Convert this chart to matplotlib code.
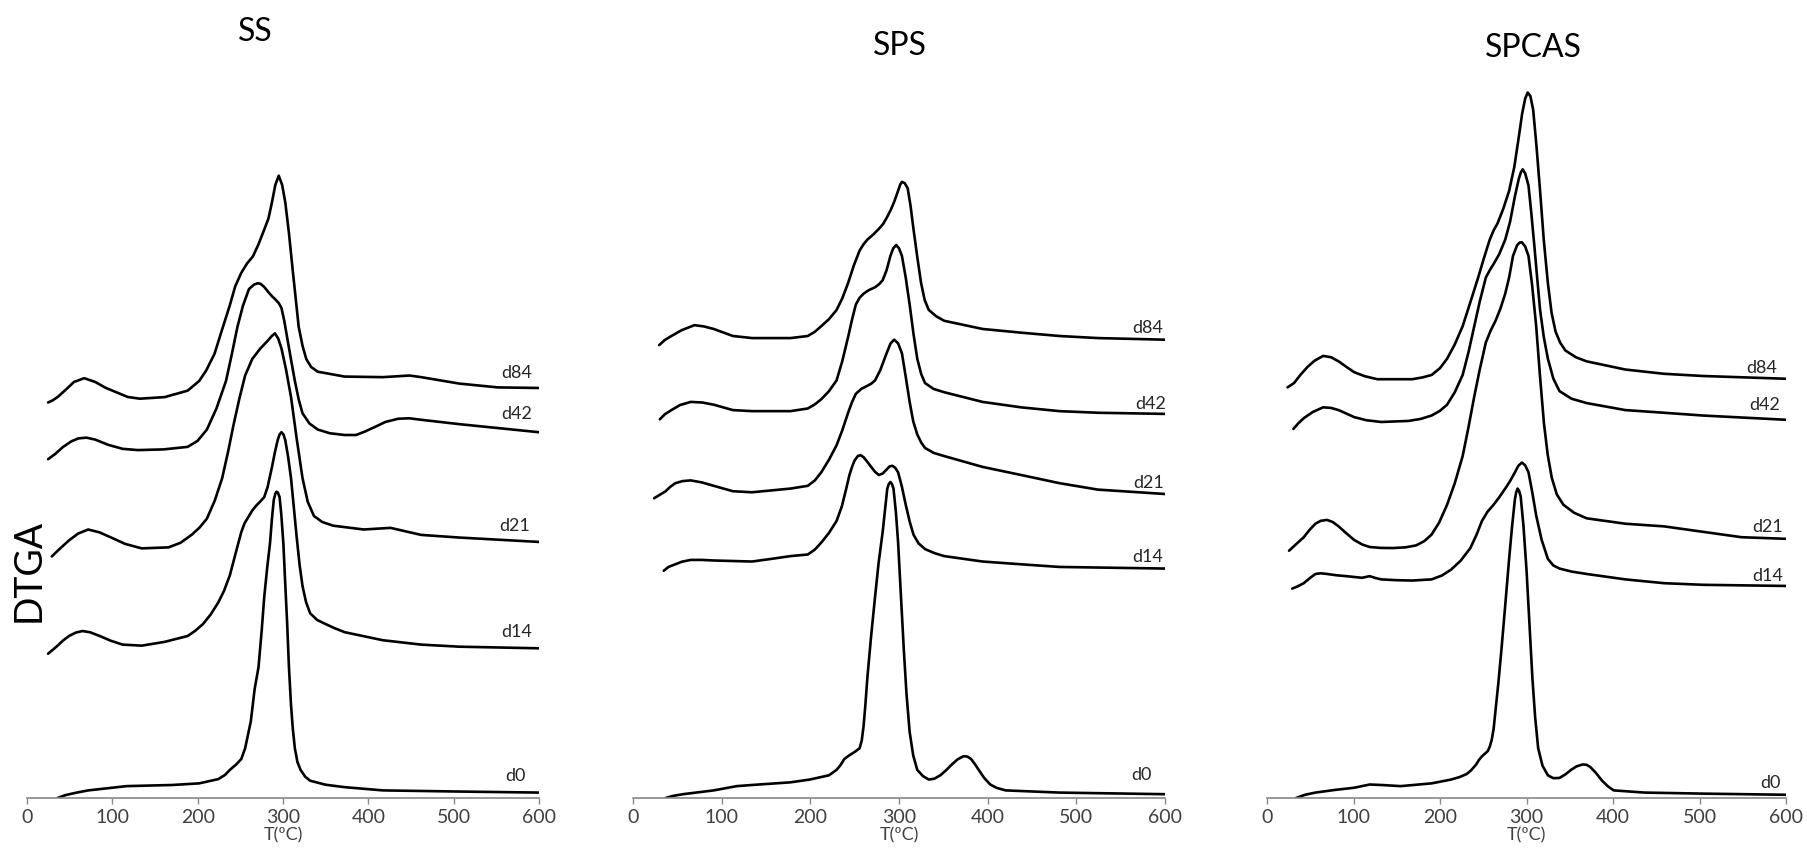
import matplotlib
import matplotlib.pyplot as plt
import matplotlib.ticker as ticker

matplotlib.use('Agg')

# temperature (ºC) and DTGA (arbitrary units, curves stacked with offsets)
ss_d0_t = [35.9, 45, 58.3, 71.7, 116.6, 170.4, 201.8, 224.2, 232, 237.7, 245, 251.1, 255.6, 259, 262.3, 266.8, 271.3,
           275, 278, 281.5, 284.8, 287, 289.2, 291, 292.4, 294, 296, 298, 300.4, 302.5, 304.9, 307, 309.4, 311.5,
           313.9, 317, 320.6, 326, 331.8, 350, 372.2, 417, 506.7, 600]
ss_d0_y = [0, 2.5, 4.7, 6.6, 10.3, 11.3, 12.7, 16.4, 20, 24.4, 29, 33.8, 43.1, 55, 66.6, 94.7, 113.5,
           145, 174.4, 200, 221.3, 242, 258.8, 264, 265.8, 265, 261.1, 246, 221.3, 188, 151, 113, 80.6, 60,
           43.1, 31, 24.4, 18.5, 15, 11.5, 9.4, 6.6, 5.6, 4.7]
ss_d14_t = [24.7, 30, 35.9, 42, 49.3, 57, 65, 74, 85.2, 98, 112.1, 134.5, 161.4, 188.3, 197, 206.3, 215, 224.2, 231,
            237.7, 244, 251.1, 255, 260.1, 264, 269.1, 273, 278, 282, 287, 290.5, 293.7, 296, 298.2, 300.5, 302.7,
            306, 309.4, 312.7, 316.1, 319.5, 322.9, 327, 331.8, 340, 349.8, 360, 372.2, 417, 461.9, 506.7, 600]
ss_d14_y = [125.2, 128.5, 132.2, 136.5, 140.6, 143.5, 144.9, 143.8, 140.6, 136.5, 133.1, 132.2, 135.5, 140.6, 145,
            151, 159, 169.7, 180, 193.2, 211, 230.7, 238.5, 244.7, 249.5, 254.1, 257, 261.1, 270, 286.9, 300, 310.4,
            315.5, 317.4, 315.5, 310.4, 296, 277.5, 252, 226, 202, 183.8, 170, 160.3, 154.5, 151, 147.5, 143.9,
            136.9, 133.1, 131.3, 129.9]
ss_d21_t = [29.1, 38, 49.3, 60, 71.7, 85, 98.7, 115, 134.5, 165.9, 180, 192.8, 202, 210.8, 220, 228.7, 235.5, 242.2,
            249, 255.6, 264, 273.5, 282.5, 287, 290.6, 294.5, 298.2, 303.5, 309.4, 316, 322.9, 329, 336.3, 346,
            358.7, 394.6, 426, 461.9, 506.7, 600]
ss_d21_y = [209.6, 216, 223.6, 229.5, 233, 230.5, 226, 220.5, 216.6, 217.5, 221.5, 228.3, 234.5, 242.4, 258, 277.5,
            300, 324.4, 347, 366.6, 381, 390.1, 397.1, 401, 403.2, 398.5, 390.1, 372, 347.9, 312, 277.5, 257, 244.7,
            239.5, 236.3, 233, 234.4, 228.3, 226, 222.2]
ss_d42_t = [24.7, 33, 42, 52, 60, 69.5, 80, 95, 112, 130, 160, 188.3, 200, 210.8, 222, 233.2, 240, 246.6, 253, 260.1,
            266, 270, 273.5, 278, 282.5, 287, 291.5, 295, 298.2, 301.5, 304.9, 309.5, 313.9, 318.5, 322.9, 331,
            340.8, 355, 372.2, 385.7, 396, 408.1, 420, 435, 448, 461.9, 506.7, 600]
ss_d42_y = [294, 298.5, 304.5, 309.5, 312, 312.7, 311, 306.5, 303, 301.9, 302.5, 304.7, 310, 319.7, 338, 361.9, 385,
            408.8, 427, 441.6, 445.5, 446.6, 446.3, 443.5, 439.3, 435.5, 432.3, 429.5, 425.2, 414, 399.4, 380,
            361.9, 345.5, 333.8, 325, 319.7, 316.5, 315, 315, 318, 322.1, 326.3, 329.1, 329.5, 328.2, 324.4, 317.4]
ss_d84_t = [24.7, 30, 36, 45, 55, 67, 80, 92, 103, 118, 132.3, 161.4, 188.3, 201.8, 210, 219.7, 228, 237.7, 244,
            251.1, 258, 264.6, 271, 278, 283, 287, 291, 295, 299, 302.7, 307, 311.7, 318.4, 323, 327.4, 333, 340.8,
            372.2, 417, 448.4, 461.9, 506.7, 551.6, 600]
ss_d84_y = [343.2, 345, 348, 354, 361, 364.3, 361, 356, 352.6, 348, 346.5, 347.9, 353.5, 361.9, 371, 385.4, 405,
            427.6, 444, 455.7, 464, 469.8, 480, 493.2, 503, 516.7, 532, 540, 532, 516.7, 490, 455.7, 408.8, 392,
            380.7, 374, 369.9, 365.7, 365.2, 366.6, 365.2, 359.6, 356.3, 355.8]

sps_d0_t = [36.8, 45, 56.3, 91, 117, 134.3, 177.6, 199.3, 221, 229.6, 234, 238.3, 243, 247, 251, 255.6, 258, 260,
            262, 264.3, 268.5, 273, 277, 281.6, 284.5, 286.8, 288.5, 290.3, 292, 293.8, 296.5, 299, 302.2, 305.5,
            308.5, 312, 316, 320.6, 327, 333.6, 340, 346.6, 353, 359.6, 366, 372.6, 377, 381.3, 385.5, 389.9, 396,
            402.9, 410, 420.3, 480.9, 600]
sps_d0_y = [0, 1.8, 3.3, 6.6, 10.3, 11.3, 13.6, 16, 19.7, 24.4, 28.5, 33.8, 36.5, 38.5, 40.5, 43.2, 50, 62,
            80, 104.2, 140, 174.6, 204, 231, 252, 268.5, 272.5, 274.2, 272.5, 268.5, 248, 221.6, 175, 127.7,
            90, 57.3, 37, 24.4, 19, 16, 16.8, 19.7, 24, 29.1, 33.5, 36.2, 36, 33.8, 29.5, 24.4, 17.5,
            11.7, 8.8, 6.6, 4.7, 3.3]
sps_d14_t = [34.7, 40, 47.7, 55, 65, 78, 91, 134.3, 156, 177.6, 197.1, 205, 212.3, 221, 229.6, 235.5, 240.5, 244,
             247, 250, 253.5, 256.5, 260, 264, 268.6, 273, 277.3, 281.5, 286, 289.5, 292.5, 295.8, 299, 303, 307.6,
             312, 316.3, 322, 329.3, 340, 351, 394.3, 437.6, 480.9, 600]
sps_d14_y = [197.2, 200.5, 202.8, 205, 206.6, 206.6, 206.1, 205.2, 207.5, 209.9, 211.3, 215.5, 221.6, 230, 240.4,
             253, 268.5, 280, 287.3, 293, 296.7, 297.5, 295.8, 292, 287.3, 283, 280.3, 281.5, 285, 287.8, 288.3,
             286.5, 282.6, 271, 254.5, 240, 228.6, 221, 216, 212.5, 209.9, 205.2, 202.8, 200.5, 199.1]
sps_d21_t = [23.8, 30, 36.8, 42, 47.7, 56, 65, 78, 91, 112.7, 134.3, 177.6, 197.1, 205, 212.3, 221, 229.6, 236,
             242.6, 247, 251.3, 257.5, 264.3, 269, 273, 279, 286, 290.5, 294.6, 299, 303.3, 307.5, 312, 316, 320.6,
             325, 329.3, 339, 351, 394.3, 437.6, 480.9, 524.3, 600]
sps_d21_y = [260.1, 263, 266.2, 270, 273.2, 275, 275.6, 273.8, 270.9, 266.2, 265.3, 268.5, 270.9, 275.5, 282.6,
             293.5, 306.1, 319, 334.3, 343.5, 350.7, 355, 357.7, 359.7, 362.4, 371.5, 385.9, 394.5, 397.7, 394.5,
             385.9, 366, 343.7, 327, 315.5, 308.5, 303.8, 299.5, 296.7, 287.3, 280.3, 273.2, 267.6, 263.8]
sps_d42_t = [30.3, 36, 43.3, 53, 65, 78, 91, 112.7, 134.3, 177.6, 197.1, 205, 212.3, 221, 229.6, 236, 242.6, 247,
             251.3, 255.5, 260, 266, 273, 277.5, 281.6, 286, 290.3, 293.5, 296.8, 300, 303.3, 307.5, 312, 316.3,
             320.6, 325, 329.3, 339, 351, 394.3, 437.6, 480.9, 524.3, 600]
sps_d42_y = [328.6, 333, 336.6, 341, 343.7, 343.2, 341.3, 336.6, 335.7, 335.7, 338, 341.5, 346, 353, 362.4, 379,
             400, 415, 428.2, 434, 437.6, 440.7, 443.2, 445.8, 449.3, 458, 470.4, 477, 479.8, 477, 470.4, 452,
             428.2, 403, 381.2, 368, 360.1, 355, 352.1, 343.7, 339, 335.7, 334.3, 333.3]
sps_d84_t = [29.5, 36, 43.3, 55, 69.3, 80, 91, 112.7, 134.3, 177.6, 197.1, 205, 212.3, 221, 229.6, 236, 242.6, 249,
             255.6, 260, 264.3, 271, 277.3, 282, 286, 290.5, 294.6, 299, 301.5, 303.3, 306.5, 309.8, 313, 316.3,
             320.5, 324.9, 329, 333.6, 342, 351, 394.3, 437.6, 480.9, 524.3, 600]
sps_d84_y = [393, 397.5, 400.9, 406, 410.3, 409.2, 407, 400.9, 399.1, 399.1, 400.9, 404.5, 409.4, 415.5, 423.5,
             433.5, 446.9, 462, 475.1, 480.5, 484.5, 489, 493.9, 498, 503.3, 510, 517.4, 527, 532.5, 534.7, 533.5,
             529.1, 514, 493.9, 470, 446.9, 432, 423.5, 418, 414.1, 407, 403.8, 400.9, 399.1, 397.7]

spcas_d0_t = [33.6, 44, 56, 78.4, 100.8, 118.7, 132.1, 154.5, 190.3, 212.7, 222, 230.6, 236, 241.8, 245, 248.5,
              252, 255.3, 257.5, 259.7, 262, 264.2, 267.5, 270.9, 275.5, 279.9, 283.5, 286.6, 288.2, 289.7, 291.5,
              293.3, 296.5, 300, 303.5, 306.8, 310, 313.5, 318.5, 324.7, 331, 338.1, 345, 351.5, 358, 365, 369.5,
              373.9, 380, 387.4, 394, 400.8, 436.6, 503.8, 600]
spcas_d0_y = [0, 2.8, 4.7, 7, 8.9, 11.7, 11.3, 10.3, 12.7, 16, 18, 20.7, 24, 29.1, 33, 36.2,
              38.5, 40.8, 44.5, 50.2, 60, 76.1, 100, 127.7, 168, 207.5, 237, 259.2, 265.5, 268.5, 266.5,
              261.5, 236, 198.1, 150, 104.2, 70, 43.2, 28, 19.7, 17.2, 17.4, 20.5, 24.4, 27.5, 29.1, 28.8,
              26.8, 22, 15, 10.2, 6.6, 4.7, 3.8, 2.8]
spcas_d14_t = [29.1, 35, 42.5, 49, 56, 62, 69.4, 80, 91.8, 109.7, 118.7, 125, 132.1, 150, 167.9, 190.3, 202, 212.7,
               224, 235.1, 242, 248.5, 255, 262, 268.5, 275.4, 281, 286.6, 290.5, 294.7, 298.5, 302.3, 306.5, 311.2,
               317.5, 324.7, 331, 338.1, 352, 369.5, 414.3, 459.1, 503.8, 600]
spcas_d14_y = [181.7, 183.5, 186.4, 190.5, 194.4, 195, 194.4, 193.3, 192.5, 191.1, 192.5, 191, 189.7, 189, 188.7,
               189.7, 193, 198.1, 206, 216.9, 228, 240.4, 248.5, 254.5, 261, 268.5, 275, 282.6, 288.2, 291.1,
               288.6, 282.6, 266, 245.1, 224, 207.5, 201.8, 199.1, 196.5, 194.4, 189.7, 186.4, 185, 184]
spcas_d21_t = [25.5, 34, 42.5, 49, 56, 62, 69.4, 76, 82.8, 92, 100.8, 110, 118.7, 132, 145.5, 160, 172.4, 182,
               190.3, 199, 208.2, 217, 226.2, 233, 239.6, 246, 253, 258.5, 264.2, 270, 275.4, 280, 284.4, 289, 292,
               294.7, 298.5, 302.3, 306.5, 311.2, 315.5, 320.2, 324.5, 329.2, 335, 342.6, 355, 369.5, 414.3, 459.1,
               503.8, 548.6, 600]
spcas_d21_y = [214.6, 220.5, 226.3, 232.5, 238, 240.5, 241.3, 239.5, 235.7, 229.5, 223.9, 220, 217.8, 217, 216.9,
               217.5, 219.2, 223, 228.6, 239, 254.5, 273, 296.7, 322, 348.4, 372, 395.3, 405.5, 414.1, 425, 437.6,
               452, 470.4, 479.5, 482, 482.2, 478.5, 470.4, 445, 409.4, 367, 324.9, 298, 277.9, 263.5, 254.5,
               247.5, 242.7, 238, 235.7, 231, 226.3, 224.9]
spcas_d42_t = [30.5, 36, 42.5, 53, 64.9, 74, 82.8, 92, 100.8, 115, 132.1, 163.5, 178, 190.3, 200, 208.2, 217, 226.2,
               233, 239.6, 246, 253, 257.5, 262, 268.5, 275.4, 281, 286.6, 291, 293.5, 295.6, 298.5, 302.3, 305.5,
               309, 312.5, 315.7, 320, 324.7, 331, 338.1, 352, 369.5, 414.3, 459.1, 503.8, 600]
spcas_d42_y = [320.2, 325, 329.6, 335, 339, 338.5, 336.6, 333.5, 330.5, 327.8, 326.3, 327.2, 329, 331.9, 336,
               341.3, 352, 367.1, 387, 409.4, 431, 451.6, 458, 463.4, 472, 484.5, 500, 522.1, 537, 543, 545.5, 542,
               531.5, 508, 479.8, 450, 423.5, 400, 381.2, 364, 353.1, 346.5, 342.7, 336.6, 334.3, 331.9, 328.2]
spcas_d84_t = [23.7, 31.3, 39, 47, 55, 64.9, 74, 82.8, 92, 100.8, 113, 127.6, 167.9, 180, 190.3, 200, 208.2, 217,
               226.2, 235, 244.1, 251, 257.5, 262, 266.5, 273, 279.9, 286, 291.1, 295, 298.5, 301.4, 304.5, 307.7,
               311.5, 315.7, 320, 324.7, 329, 333.6, 339, 345, 357, 369.5, 414.3, 459.1, 503.8, 600]
spcas_d84_y = [356.3, 360.1, 367.5, 374.2, 379.5, 383.6, 382.5, 378.9, 374, 369.5, 366, 363.4, 363.4, 365, 367.1,
               373, 381.2, 393.5, 409.4, 430, 451.6, 469, 484.5, 492.5, 498.6, 511, 526.8, 548, 573.7, 594, 607,
               612.2, 609, 597.2, 566, 526.8, 484, 446.9, 421, 404.7, 395, 388.3, 382.5, 378.9, 371.8, 368.1, 366.2,
               363.8]

panel_titles = ['SS', 'SPS', 'SPCAS']
curve_names = ['d0', 'd14', 'd21', 'd42', 'd84']
xtick_values = [0, 100, 200, 300, 400, 500, 600]

# label positions (T, DTGA) for each curve name
ss_label_t = [572, 574, 572, 574, 574]
ss_label_y = [19, 144, 236, 333, 369]
sps_label_t = [573, 581, 581, 584, 581]
sps_label_y = [20, 209, 273, 342, 408]
spcas_label_t = [582, 579, 579, 575, 572]
spcas_label_y = [13, 193, 235, 341, 373]

panels = [
    (panel_titles[0],
     [(ss_d0_t, ss_d0_y), (ss_d14_t, ss_d14_y), (ss_d21_t, ss_d21_y), (ss_d42_t, ss_d42_y), (ss_d84_t, ss_d84_y)],
     ss_label_t, ss_label_y),
    (panel_titles[1],
     [(sps_d0_t, sps_d0_y), (sps_d14_t, sps_d14_y), (sps_d21_t, sps_d21_y), (sps_d42_t, sps_d42_y),
      (sps_d84_t, sps_d84_y)],
     sps_label_t, sps_label_y),
    (panel_titles[2],
     [(spcas_d0_t, spcas_d0_y), (spcas_d14_t, spcas_d14_y), (spcas_d21_t, spcas_d21_y),
      (spcas_d42_t, spcas_d42_y), (spcas_d84_t, spcas_d84_y)],
     spcas_label_t, spcas_label_y),
]

plt.rcParams['font.family'] = ['Lato', 'DejaVu Sans']

W, H = 1807, 851
fig = plt.figure(figsize=(W / 100, H / 100), dpi=100)

# axes placement in pixels: (x of T=0, x of T=600), baseline at y=798
ax_px = [(27, 539), (633, 1165), (1267, 1786)]
title_px = [(255, 32), (900, 46), (1533, 48)]
base_y = 798
y_top = base_y / 1.1524

for (title, curves, lab_t, lab_y), (x0, x1), (tx, ty) in zip(panels, ax_px, title_px):
    ax = fig.add_axes([x0 / W, (H - base_y) / H, (x1 - x0) / W, base_y / H])
    for (t, y), name, lt, ly in zip(curves, curve_names, lab_t, lab_y):
        ax.plot(t, y, color='black', lw=1.9, solid_joinstyle='round', solid_capstyle='round')
        ax.text(lt, ly, name, fontsize=13, color='#262626', ha='center', va='center')
    ax.set_xlim(0, 600)
    ax.set_ylim(0, y_top)
    ax.xaxis.set_major_locator(ticker.FixedLocator(xtick_values))
    ax.tick_params(axis='x', direction='out', length=4, width=1, color='#888888',
                   labelsize=14, labelcolor='#404040', pad=4)
    ax.set_yticks([])
    for side in ['left', 'right', 'top']:
        ax.spines[side].set_visible(False)
    ax.spines['bottom'].set_color('#888888')
    ax.spines['bottom'].set_linewidth(1.2)
    ax.set_xlabel('T(ºC)', fontsize=13, color='#404040', labelpad=1)
    ax.patch.set_alpha(0)
    fig.text(tx / W, 1 - ty / H, title, fontsize=23, ha='center', va='center')

fig.text(29 / W, 1 - 570 / H, 'DTGA', fontsize=27, rotation=90, ha='center', va='center')

fig.savefig('out.png', dpi=100)
